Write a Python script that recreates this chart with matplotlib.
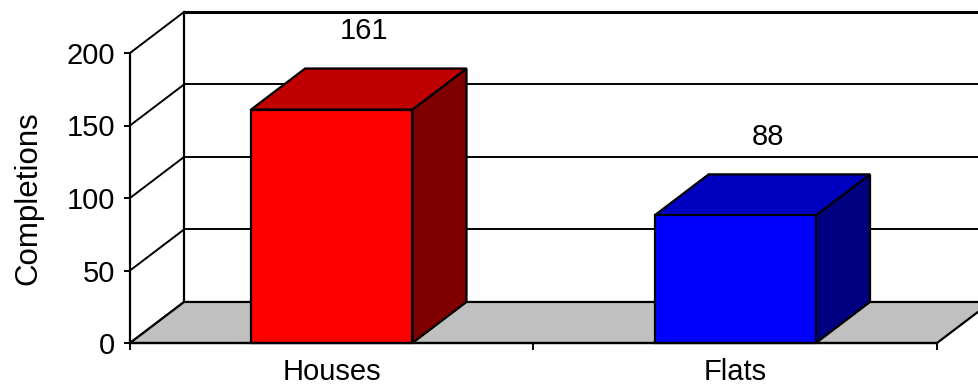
import numpy as np
import matplotlib
matplotlib.use("Agg")
import matplotlib.pyplot as plt
from matplotlib.patches import Polygon, Rectangle

plt.rcParams['font.family'] = ['Liberation Sans', 'DejaVu Sans']

# Data
categories = ['Houses', 'Flats']
completions = [161, 88]
front_colors = ['#ff0000', '#0000ff']
top_colors = ['#c00000', '#0000c0']
side_colors = ['#800000', '#000080']
y_ticks = [0, 50, 100, 150, 200]

# 3D look parameters
dx = 0.134      # depth offset along x (category units)
dy = 28.3       # depth offset along y (value units)
bar_w = 0.40
lw = 1.6
fs = 21

fig = plt.figure(figsize=(9.79, 3.88), dpi=100)
ax = fig.add_axes([130/979, 45/388, 807/979, 290/388])
ax.set_xlim(-0.5, 1.5)
ax.set_ylim(0, 200)
ax.patch.set_visible(False)

# back wall gridlines and left wall diagonals
for v in y_ticks:
    ax.plot([-0.5 + dx, 1.5 + dx], [v + dy, v + dy], color='black',
            lw=2.2 if v == 200 else 1.4, clip_on=False, zorder=1)
    ax.plot([-0.5, -0.5 + dx], [v, v + dy], color='black', lw=1.4,
            clip_on=False, zorder=1)
ax.plot([-0.5 + dx, -0.5 + dx], [dy, 200 + dy], color='black', lw=lw,
        clip_on=False, zorder=1)

# floor
floor = Polygon([(-0.5, 0), (1.5, 0), (1.5 + dx, dy), (-0.5 + dx, dy)],
                closed=True, facecolor='#c0c0c0', edgecolor='black',
                lw=lw, clip_on=False, zorder=2)
ax.add_patch(floor)

# bars
for i, v in enumerate(completions):
    x0 = i - bar_w / 2
    x1 = i + bar_w / 2
    side = Polygon([(x1, 0), (x1 + dx, dy), (x1 + dx, v + dy), (x1, v)],
                   closed=True, facecolor=side_colors[i], edgecolor='black',
                   lw=lw, clip_on=False, zorder=3)
    top = Polygon([(x0, v), (x1, v), (x1 + dx, v + dy), (x0 + dx, v + dy)],
                  closed=True, facecolor=top_colors[i], edgecolor='black',
                  lw=lw, clip_on=False, zorder=3)
    front = Rectangle((x0, 0), bar_w, v, facecolor=front_colors[i],
                      edgecolor='black', lw=lw, clip_on=False, zorder=4)
    ax.add_patch(side)
    ax.add_patch(top)
    ax.add_patch(front)
    ax.annotate(str(v), xy=(i + dx / 2, v + dy), xytext=(4, 27),
                textcoords='offset points', ha='center', va='center',
                fontsize=fs)

# axes
for s in ['top', 'right']:
    ax.spines[s].set_visible(False)
for s in ['left', 'bottom']:
    ax.spines[s].set_linewidth(lw)
    ax.spines[s].set_zorder(5)

ax.set_yticks(y_ticks)
ax.tick_params(axis='y', length=4.5, width=1.4, pad=6, labelsize=fs)
ax.set_xticks([-0.5, 0.5, 1.5])
ax.set_xticklabels([])
ax.set_xticks([0, 1], minor=True)
ax.set_xticklabels(categories, minor=True)
ax.tick_params(axis='x', which='major', length=5, width=1.4)
ax.tick_params(axis='x', which='minor', length=0, pad=11, labelsize=fs)
ax.set_ylabel('Completions', fontsize=22.5, labelpad=17)

plt.savefig('out.png', dpi=100)
